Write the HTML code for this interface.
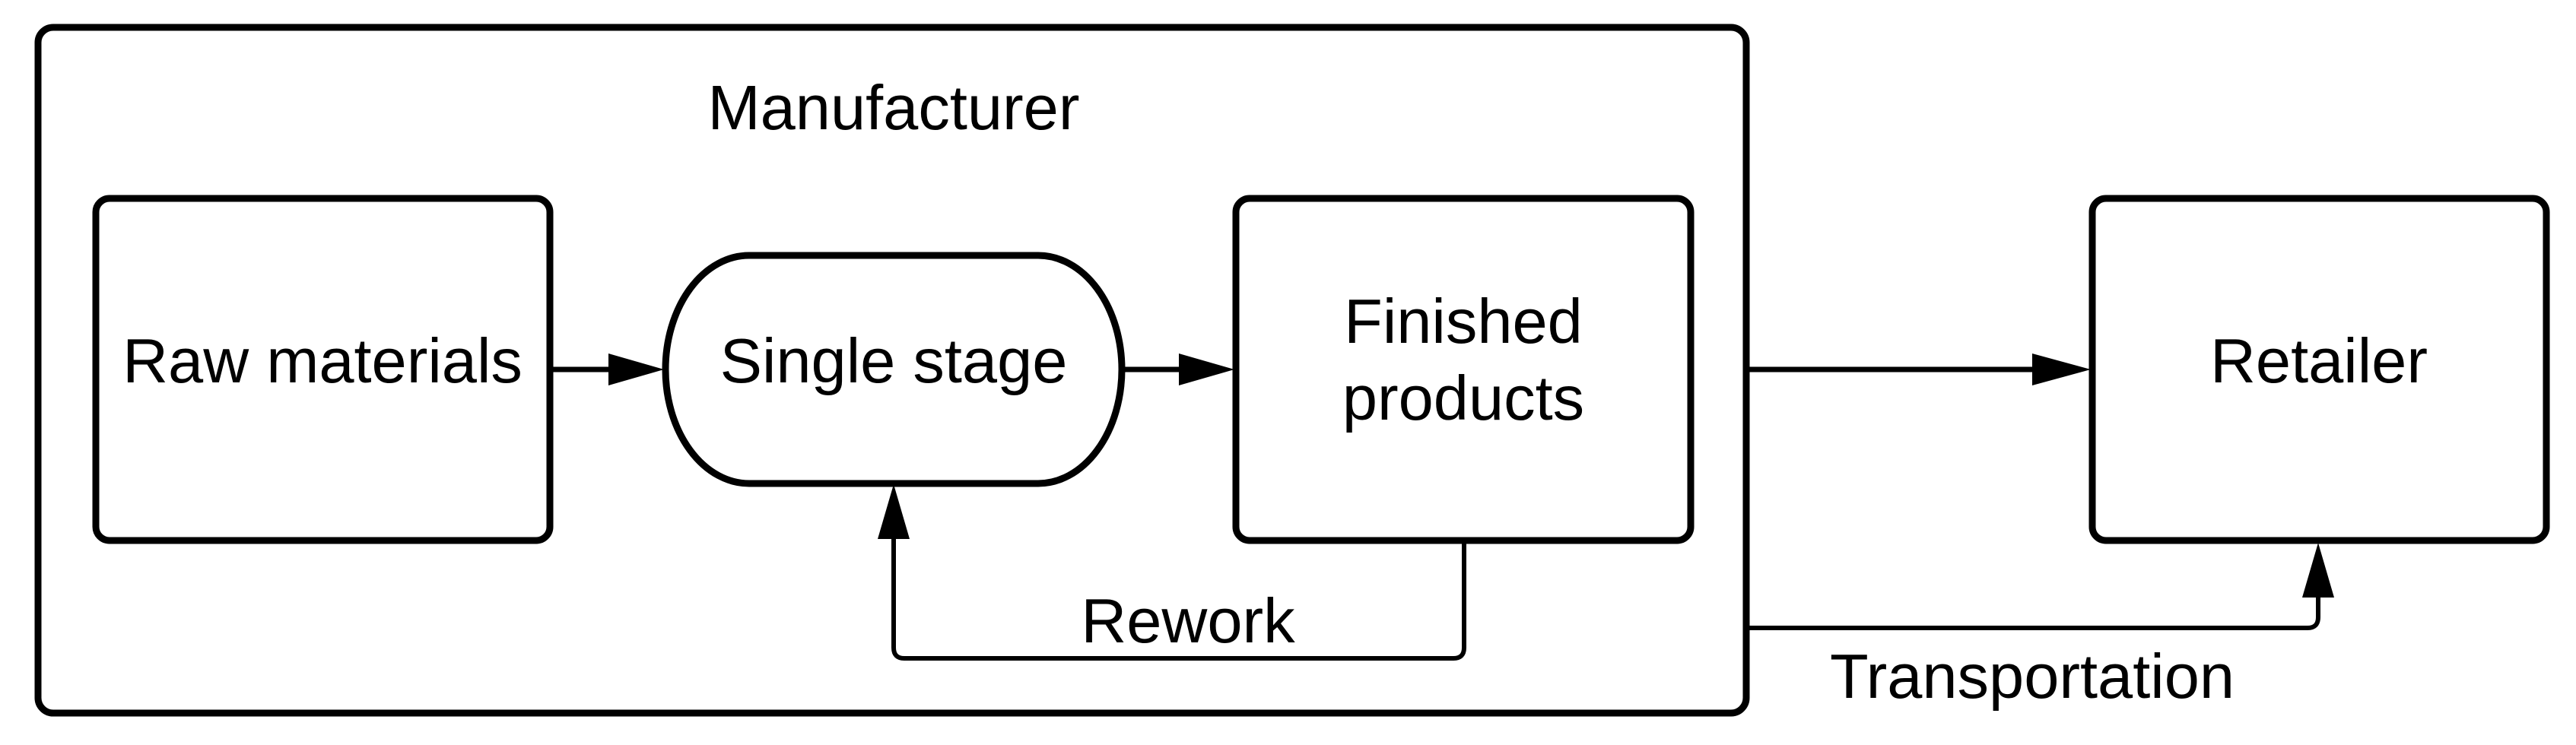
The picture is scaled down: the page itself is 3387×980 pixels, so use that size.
<!DOCTYPE html>
<html><head><meta charset="utf-8"><style>html,body{margin:0;padding:0;background:#fff}svg{display:block}</style></head>
<body>
<svg width="3387" height="980" viewBox="0 0 3387 980" xmlns="http://www.w3.org/2000/svg" font-family="Liberation Sans, sans-serif" font-size="83" fill="#000">
<g fill="none" stroke="#000" stroke-width="9">
<rect x="50" y="36" width="2246" height="902" rx="20"/>
<rect x="126" y="261" width="597" height="450" rx="18"/>
<rect x="875" y="336" width="600" height="300" rx="110" ry="150"/>
<rect x="1625" y="261" width="598" height="450" rx="18"/>
<rect x="2751" y="261" width="597" height="450" rx="18"/>
</g>
<g stroke="#000" fill="none">
<line x1="727" y1="486" x2="805" y2="486" stroke-width="7"/>
<line x1="1479" y1="486" x2="1555" y2="486" stroke-width="7"/>
<line x1="2300" y1="486" x2="2677" y2="486" stroke-width="7"/>
<path d="M1925 714 V852 Q1925 866 1911 866 H1189 Q1175 866 1175 852 V705" stroke-width="6"/>
<path d="M2300 826 H3034 Q3048 826 3048 812 V780" stroke-width="6"/>
</g>
<g fill="#000">
<polygon points="800,465 873,486 800,507"/>
<polygon points="1550,465 1623,486 1550,507"/>
<polygon points="2672,465 2749,486 2672,507"/>
<polygon points="1154,709 1175,637 1196,709"/>
<polygon points="3027,786 3048,714 3069,786"/>
</g>
<g text-anchor="middle">
<text x="1175" y="170">Manufacturer</text>
<text x="424" y="503">Raw materials</text>
<text x="1175" y="503">Single stage</text>
<text x="1924" y="451">Finished</text>
<text x="1924" y="552">products</text>
<text x="3049" y="503">Retailer</text>
<text x="1562" y="845">Rework</text>
<text x="2672" y="918">Transportation</text>
</g>
</svg>
</body></html>
